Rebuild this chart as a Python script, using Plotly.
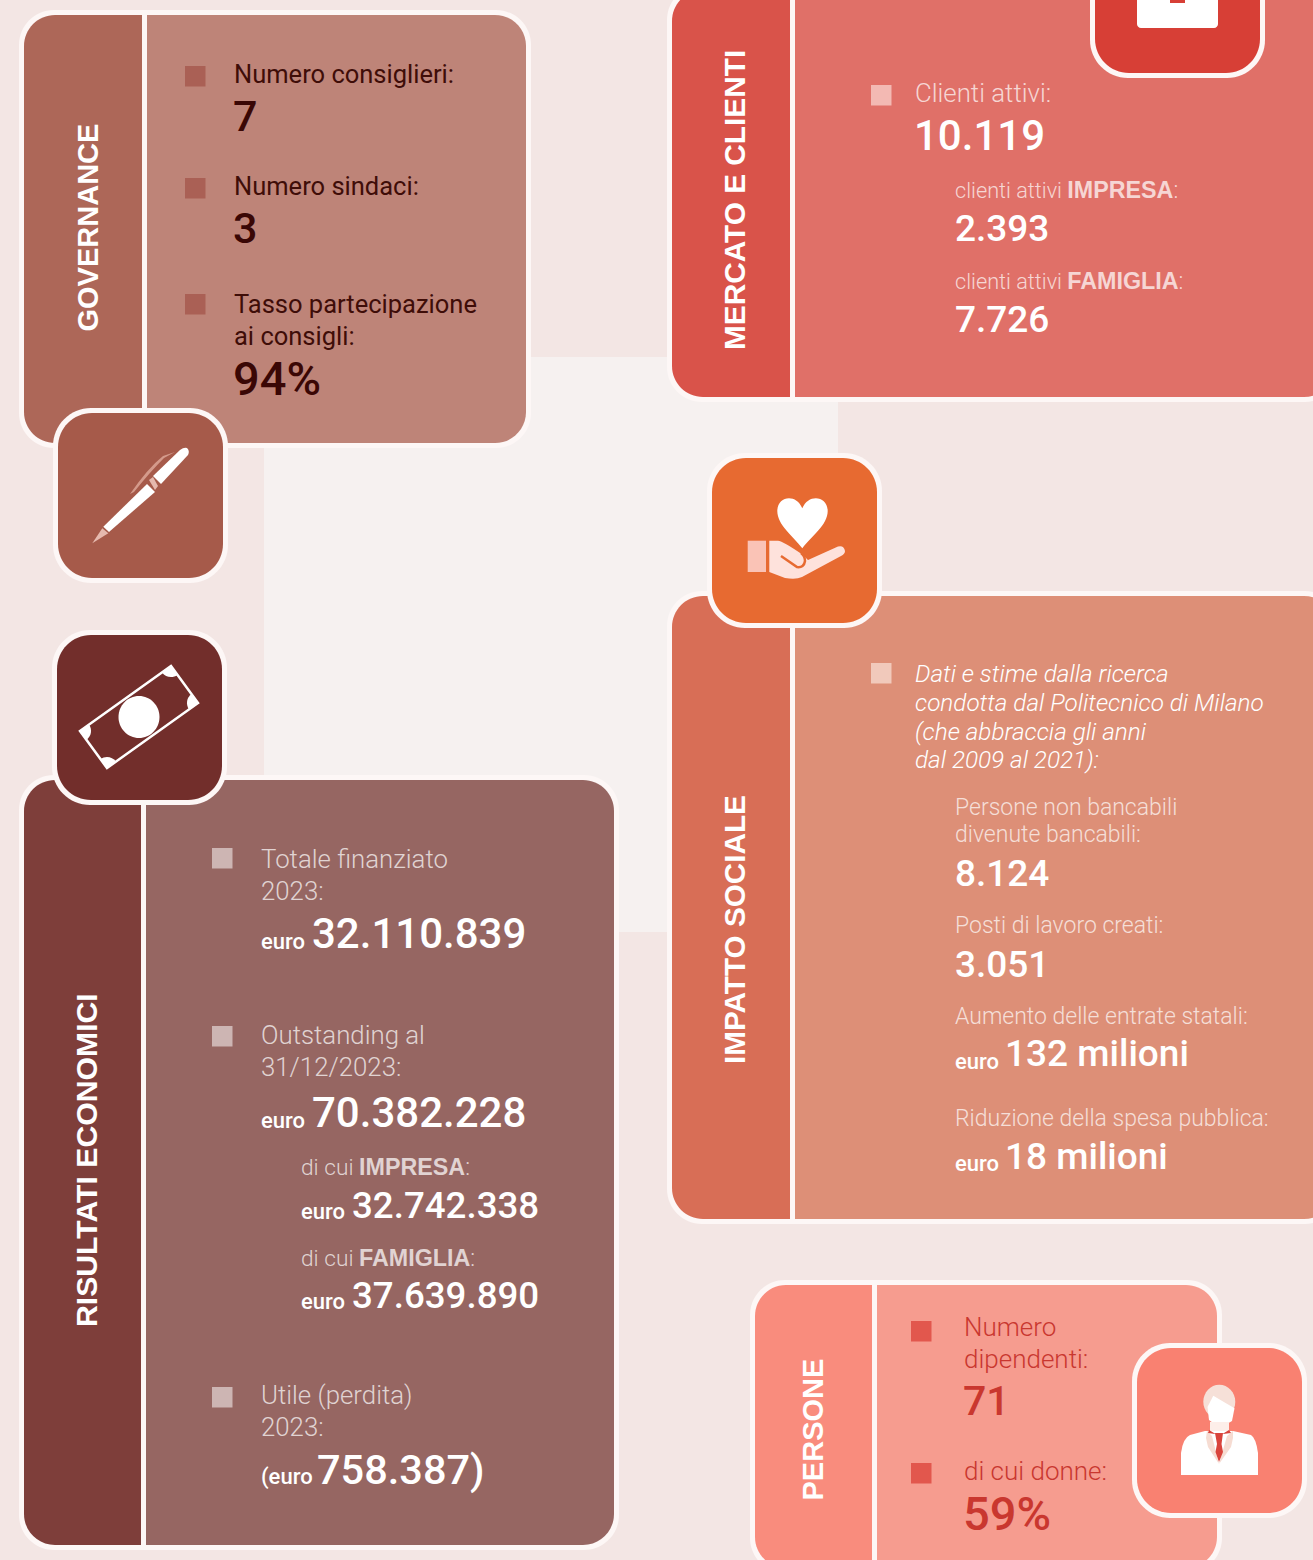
import math
import plotly.graph_objects as go

# ---------- content ----------
TITLES = ["GOVERNANCE", "MERCATO E CLIENTI", "RISULTATI ECONOMICI", "IMPATTO SOCIALE", "PERSONE"]
TITLES_X = [87.5, 734, 86, 734, 812.5]
TITLES_Y = [228, 200, 1160, 930, 1430]
TITLES_SIZE = [29, 29.8, 30.2, 29.7, 29]

GOV_LABELS = ["Numero consiglieri:", "Numero sindaci:", "Tasso partecipazione", "ai consigli:"]
GOV_LABELS_Y = [73.6, 185.6, 303.6, 335.6]
GOV_VALUES = ["7", "3", "94%"]
GOV_VALUES_Y = [116, 228, 378]
GOV_VALUES_SIZE = [43, 43, 47]

MKT_LABELS = ["Clienti attivi:"]
MKT_VALUES = ["10.119"]
MKT_SUB_PREFIX = "clienti attivi "
ECO_SUB_PREFIX = "di cui "
SEGMENTS = ["IMPRESA", "FAMIGLIA"]
MKT_SUB_LABELS_Y = [190, 281]
MKT_SUB_VALUES = ["2.393", "7.726"]
MKT_SUB_VALUES_Y = [228, 319]

SOC_INTRO = ["Dati e stime dalla ricerca", "condotta dal Politecnico di Milano",
             "(che abbraccia gli anni", "dal 2009 al 2021):"]
SOC_INTRO_Y = [673, 702, 731, 759]
SOC_LABELS = ["Persone non bancabili", "divenute bancabili:", "Posti di lavoro creati:",
              "Aumento delle entrate statali:", "Riduzione della spesa pubblica:"]
SOC_LABELS_Y = [807, 834, 925, 1016, 1118]
SOC_VALUES = ["8.124", "3.051"]
SOC_VALUES_Y = [873, 964]
SOC_MONEY = ["132 milioni", "18 milioni"]
SOC_MONEY_Y = [1053, 1156]
SOC_EURO_Y = [1061, 1163]

ECO_LABELS = ["Totale finanziato", "2023:", "Outstanding al", "31/12/2023:", "Utile (perdita)", "2023:"]
ECO_LABELS_Y = [858.6, 890.6, 1034.6, 1066.6, 1394.6, 1426.6]
ECO_VALUES = ["32.110.839", "70.382.228"]
ECO_VALUES_Y = [933, 1112]
ECO_EURO_Y = [941, 1120]
ECO_SUB_LABELS_Y = [1167, 1258]
ECO_SUB_VALUES = ["32.742.338", "37.639.890"]
ECO_SUB_VALUES_Y = [1205, 1295]
ECO_SUB_EURO_Y = [1211, 1301]
ECO_LOSS_PREFIX = "(euro"
ECO_LOSS = "758.387)"

PPL_LABELS = ["Numero", "dipendenti:", "di cui donne:"]
PPL_LABELS_Y = [1326.6, 1358.6, 1470.6]
PPL_VALUES = ["71", "59%"]
PPL_VALUES_Y = [1401, 1513]
PPL_VALUES_SIZE = [41, 47]
EURO = "euro"

# ---------- palette ----------
BG = "#f3e6e4"
LIGHT = "#f6f1f0"
WHITE = "#ffffff"
EDGE = "#fdf7f6"
DARK = "#3f0d08"
PALE = "rgba(255,255,255,0.72)"
LABEL_FONT = "Roboto"
TITLE_FONT = "Liberation Sans"
K = 0.5523

shapes, annotations = [], []


def rpath(x0, y0, x1, y1, tl=0, tr=0, br=0, bl=0):
    p = f"M{x0+tl},{y0} L{x1-tr},{y0} "
    if tr:
        p += f"C{x1-tr+K*tr:.2f},{y0} {x1},{y0+tr-K*tr:.2f} {x1},{y0+tr} "
    p += f"L{x1},{y1-br} "
    if br:
        p += f"C{x1},{y1-br+K*br:.2f} {x1-br+K*br:.2f},{y1} {x1-br},{y1} "
    p += f"L{x0+bl},{y1} "
    if bl:
        p += f"C{x0+bl-K*bl:.2f},{y1} {x0},{y1-bl+K*bl:.2f} {x0},{y1-bl} "
    p += f"L{x0},{y0+tl} "
    if tl:
        p += f"C{x0},{y0+tl-K*tl:.2f} {x0+tl-K*tl:.2f},{y0} {x0+tl},{y0} "
    return p + "Z"


def ellipse(cx, cy, rx, ry):
    return (f"M{cx-rx},{cy} C{cx-rx},{cy-K*ry:.2f} {cx-K*rx:.2f},{cy-ry} {cx},{cy-ry} "
            f"C{cx+K*rx:.2f},{cy-ry} {cx+rx},{cy-K*ry:.2f} {cx+rx},{cy} "
            f"C{cx+rx},{cy+K*ry:.2f} {cx+K*rx:.2f},{cy+ry} {cx},{cy+ry} "
            f"C{cx-K*rx:.2f},{cy+ry} {cx-rx},{cy+K*ry:.2f} {cx-rx},{cy} Z")


def path(d, fill=None, line=None, width=0):
    s = dict(type="path", path=d, xref="x", yref="y", layer="above", line=dict(width=width))
    s["fillcolor"] = fill if fill else "rgba(0,0,0,0)"
    if line:
        s["line"]["color"] = line
    shapes.append(s)


def poly(pts, fill):
    path("M" + " L".join(f"{x:.1f},{y:.1f}" for x, y in pts) + " Z", fill)


def panel(x0, y0, x1, y1, div0, div1, tab, body, r=31):
    path(rpath(x0 - 5, y0 - 5, x1 + 5, y1 + 5, r + 4, r + 4, r + 4, r + 4), EDGE)
    path(rpath(x0, y0, div0, y1, r, 0, 0, r), tab)
    path(rpath(div1, y0, x1, y1, 0, r, r, 0), body)


def icon_box(x0, y0, fill, size=165, r=34):
    path(rpath(x0 - 5, y0 - 5, x0 + size + 5, y0 + size + 5, r + 4, r + 4, r + 4, r + 4), EDGE)
    path(rpath(x0, y0, x0 + size, y0 + size, r, r, r, r), fill)


def text(label, x, y, size, color, anchor="left", angle=0, weight=300, family=LABEL_FONT):
    annotations.append(dict(text=label, x=x, y=y, xref="x", yref="y", showarrow=False,
                            xanchor=anchor, yanchor="middle", align="left", textangle=angle,
                            font=dict(family=family, size=size, color=color, weight=weight),
                            borderpad=0, borderwidth=0))


def many(labels, ys, x, size, color, weight=300):
    sizes = size if isinstance(size, list) else [size] * len(labels)
    for label, y, s in zip(labels, ys, sizes):
        text(label, x, y, s, color, weight=weight)


def segment_label(prefix, prefix_size, word):
    return (f'<span style="font-size:{prefix_size}px">{prefix}</span>'
            f'<b><span style="font-family:\'Liberation Sans\';font-size:23.3px;color:#ffffff">{word}</span></b>:')


def marker(x, y, color):
    path(rpath(x, y - 10, x + 20.5, y + 10.5), color)


# ---------- background ----------
path(rpath(264, 357, 838, 932), LIGHT)

# ---------- panels ----------
panel(24, 15, 526, 443, 142, 147, "rgba(166,90,74,0.92)", "rgba(178,110,95,0.84)")
panel(672, -10, 1335, 397, 790, 795, "#d9534a", "rgba(220,93,84,0.88)")
panel(24, 780, 614, 1545, 141, 146, "#7e3e3a", "rgba(132,76,72,0.85)")
panel(672, 596, 1335, 1219, 790, 795, "#d86e56", "rgba(214,120,90,0.82)")
panel(755, 1285, 1217, 1568, 872, 877, "#f98c7d", "rgba(244,140,125,0.85)")

# ---------- icon: pen ----------
icon_box(58, 413, "#a65a4a")
poly([(92.3, 543.3), (102.3, 528.3), (108.3, 533.3)], "#e6b9ae")
poly([(103.3, 526.7), (147, 484), (155, 492), (109, 532)], WHITE)
poly([(149, 480), (153, 477), (158, 486), (155, 490)], "#e6b9ae")
path("M153,476 L180,450 Q184,447 187,448 Q190,451 188,455 L161,484 Z", WHITE)
path("M130,494 Q148,468 163,456 L175,452 L164,458 Q150,472 134,492 Z", "#d49a8b")

# ---------- icon: banknote ----------
icon_box(57, 635, "#722e2b")
corners = [(171, 666), (198, 703), (107, 768), (80, 731)]
path("M" + " L".join(f"{x},{y}" for x, y in corners) + " Z", None, WHITE, 2.5)
path(ellipse(139, 717, 20.5, 21), WHITE)
for i, (cx, cy) in enumerate(corners):
    ax, ay = corners[i - 1]
    bx, by = corners[(i + 1) % 4]
    la, lb = math.hypot(ax - cx, ay - cy), math.hypot(bx - cx, by - cy)
    r = 11
    ux, uy, vx, vy = (ax - cx) / la, (ay - cy) / la, (bx - cx) / lb, (by - cy) / lb
    p1 = (cx + ux * r, cy + uy * r)
    p2 = (cx + vx * r, cy + vy * r)
    c1 = (p1[0] + vx * r * K, p1[1] + vy * r * K)
    c2 = (p2[0] + ux * r * K, p2[1] + uy * r * K)
    path(f"M{cx},{cy} L{p1[0]:.1f},{p1[1]:.1f} C{c1[0]:.1f},{c1[1]:.1f} {c2[0]:.1f},{c2[1]:.1f} "
         f"{p2[0]:.1f},{p2[1]:.1f} Z", WHITE)

# ---------- icon: heart in hand ----------
icon_box(712, 458, "#e76a31")
path("M802.3,548.3 C793,536 777.3,525 777.3,511 C777.3,496 796,493 802.3,508.3 "
     "C808.6,493 827.7,496 827.7,511 C827.7,525 811.6,536 802.3,548.3 Z", WHITE)
path(rpath(747.7, 540.7, 766, 572), "#fac3b6")
path("M769.3,540.7 L778,540.7 Q783,541 803,555 L808,560 L838,546.5 Q844,545 845,551 Q845,554 841,556 "
     "L802,577 Q796,580 785,578 L769.3,572 Z", "#fee2dc")
path("M781,556 L797,567 Q804,568 805,561 Q805,556 801,553", None, "#e76a31", 2.5)

# ---------- icon: person ----------
icon_box(1137, 1348, "#f98171")
path(ellipse(1219.3, 1401.7, 16, 17), "#f6e0d8")
poly([(1213.3, 1395.7), (1234.5, 1408.3), (1232, 1421), (1220, 1428), (1209, 1420), (1207.5, 1407)], WHITE)
poly([(1210, 1422), (1229, 1422), (1229, 1432), (1210, 1432)], "#fdeee9")
path("M1181,1475 L1181,1453 Q1183,1438 1190,1435 L1205,1431 L1233,1431 L1251,1435 Q1256,1438 1258,1453 "
     "L1258,1475 Z", WHITE)
poly([(1207, 1431), (1212, 1436), (1219, 1464), (1208, 1447), (1206, 1438)], "#f6dcd2")
poly([(1233, 1431), (1227, 1436), (1219, 1464), (1231, 1447), (1233, 1438)], "#f6dcd2")
poly([(1215, 1433), (1223, 1433), (1221.5, 1444), (1223, 1452), (1219, 1462), (1215.5, 1452), (1217, 1444)], "#d9443c")
poly([(1209, 1430), (1219, 1436), (1229, 1430), (1231, 1433), (1223, 1434), (1215, 1434), (1208, 1433)], "#d9443c")

# ---------- icon: briefcase, cut by the page top ----------
path(rpath(1090, -60, 1265, 78, 38, 38, 38, 38), EDGE)
path(rpath(1095, -60, 1260, 73, 34, 34, 34, 34), "#d73f36")
path(rpath(1137, -20, 1218, 28, 0, 0, 4, 4), WHITE)
path(rpath(1170, -20, 1185, 3), "#d73f36")

# ---------- text ----------
for t, x, y, s in zip(TITLES, TITLES_X, TITLES_Y, TITLES_SIZE):
    text(f"<b>{t}</b>", x, y, s, WHITE, anchor="center", angle=-90, weight=700, family=TITLE_FONT)

for y in [76, 188, 304]:
    marker(185, y, "#aa6055")
many(GOV_LABELS, GOV_LABELS_Y, 234, 25.5, DARK, 400)
many(GOV_VALUES, GOV_VALUES_Y, 233, GOV_VALUES_SIZE, "#3a0705", 500)

marker(871, 95, "#f3b9b3")
many(MKT_LABELS, [92.6], 915, 25.8, PALE)
many(MKT_VALUES, [135], 914, 42, WHITE, 500)
many([segment_label(MKT_SUB_PREFIX, 21.7, w) for w in SEGMENTS], MKT_SUB_LABELS_Y, 955, 23, PALE)
many(MKT_SUB_VALUES, MKT_SUB_VALUES_Y, 954.5, 37, WHITE, 500)

marker(871, 673, "#f1c9bb")
many([f"<i>{t}</i>" for t in SOC_INTRO], SOC_INTRO_Y, 914.5, 24.3, WHITE)
many(SOC_LABELS, SOC_LABELS_Y, 954.5, 23, PALE)
many(SOC_VALUES, SOC_VALUES_Y, 954.5, 37, WHITE, 500)
many(SOC_MONEY, SOC_MONEY_Y, 1004.5, 37, WHITE, 500)
many([EURO] * 2, SOC_EURO_Y, 955, 22, WHITE, 500)

for y in [858, 1036, 1397]:
    marker(212, y, "#cdb5b3")
many(ECO_LABELS, ECO_LABELS_Y, 261, 25.8, PALE)
many(ECO_VALUES, ECO_VALUES_Y, 311.5, 42, WHITE, 500)
many([EURO] * 2, ECO_EURO_Y, 261, 22, WHITE, 500)
many([segment_label(ECO_SUB_PREFIX, 22.7, w) for w in SEGMENTS], ECO_SUB_LABELS_Y, 301, 23, PALE)
many(ECO_SUB_VALUES, ECO_SUB_VALUES_Y, 351.5, 36.7, WHITE, 500)
many([EURO] * 2, ECO_SUB_EURO_Y, 301, 22, WHITE, 500)
many([ECO_LOSS_PREFIX], [1477], 261, 22, WHITE, 500)
many([ECO_LOSS], [1469], 316.5, 41.5, WHITE, 500)

for y in [1331, 1473]:
    marker(911, y, "#e2574d")
many(PPL_LABELS, PPL_LABELS_Y, 963.5, 26, "#c9372f")
many(PPL_VALUES, PPL_VALUES_Y, 963, PPL_VALUES_SIZE, "#c9372f", 500)

fig = go.Figure(go.Scatter(x=[], y=[], hoverinfo="skip", showlegend=False))
fig.update_layout(
    width=1313, height=1560, margin=dict(l=0, r=0, t=0, b=0, pad=0),
    paper_bgcolor=BG, plot_bgcolor=BG, showlegend=False,
    xaxis=dict(range=[0, 1313], visible=False, fixedrange=True),
    yaxis=dict(range=[1560, 0], visible=False, fixedrange=True),
    shapes=shapes, annotations=annotations,
)
fig.write_html(
    "out.html",
    config=dict(displayModeBar=False, staticPlot=True),
    post_script="document.body.style.margin='0';document.documentElement.style.overflow='hidden';",
)
